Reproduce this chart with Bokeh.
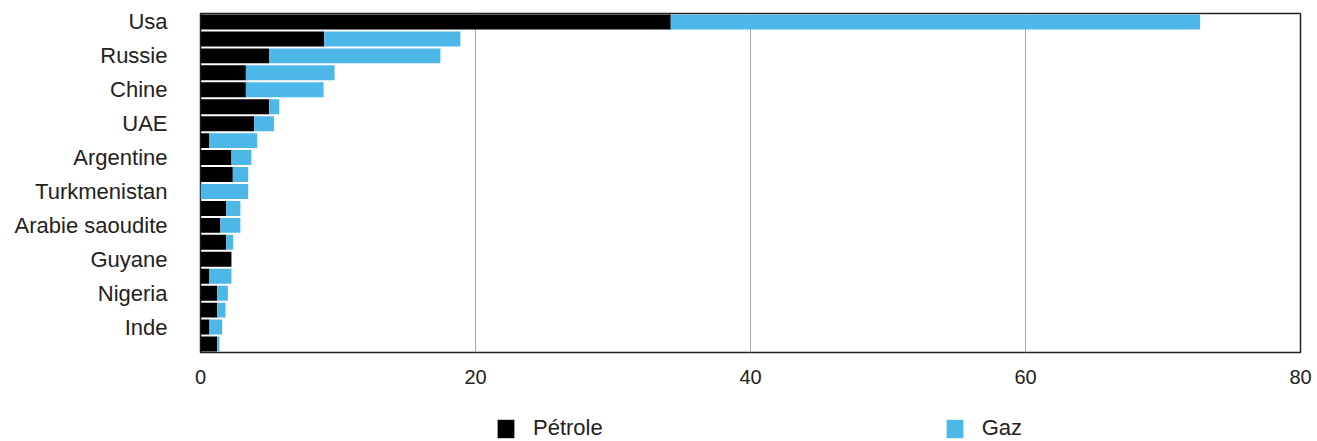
from bokeh.plotting import figure
from bokeh.layouts import column
from bokeh.models import Range1d, FixedTicker, Legend, LegendItem, ColumnDataSource
from bokeh.embed import file_html
from bokeh.resources import INLINE

# Data
labels = ["Usa", "", "Russie", "", "Chine", "", "UAE", "", "Argentine", "",
          "Turkmenistan", "", "Arabie saoudite", "", "Guyane", "", "Nigeria", "", "Inde", ""]
petrole = [34.2, 9.0, 5.0, 3.3, 3.3, 5.0, 3.9, 0.65, 2.25, 2.35,
           0.0, 1.87, 1.45, 1.87, 2.25, 0.65, 1.21, 1.21, 0.65, 1.21]
gaz = [38.5, 9.9, 12.45, 6.45, 5.65, 0.73, 1.45, 3.47, 1.45, 1.12,
       3.47, 1.03, 1.45, 0.51, 0.0, 1.6, 0.78, 0.61, 0.93, 0.17]
x_ticks = [0, 20, 40, 60, 80]
series = ["Pétrole", "Gaz"]
colors = ["#000000", "#4db8e8"]

pos = list(range(1, len(labels) + 1))
src = ColumnDataSource(dict(y=pos, petrole=petrole, gaz=gaz))

p = figure(width=1317, height=395, output_backend="svg", toolbar_location=None,
           x_range=Range1d(0, 80), y_range=Range1d(len(labels) + 0.5, 0.5),
           min_border_left=200, min_border_right=17, min_border_top=13, min_border_bottom=43)

p.hbar_stack(["petrole", "gaz"], y="y", height=0.88, color=colors, source=src, line_width=0)

p.outline_line_color = "#222222"
p.outline_line_width = 1.5

p.ygrid.visible = False
p.xgrid.ticker = FixedTicker(ticks=[20, 40, 60])
p.xgrid.grid_line_color = "#a9a9a9"
p.xgrid.grid_line_width = 1

p.xaxis.ticker = FixedTicker(ticks=x_ticks)
p.xaxis.axis_line_color = None
p.xaxis.major_tick_line_color = None
p.xaxis.minor_tick_line_color = None
p.xaxis.major_label_text_font = "Liberation Sans"
p.xaxis.major_label_text_font_size = "20px"
p.xaxis.major_label_text_color = "#222222"
p.xaxis.major_label_standoff = 11

tick_pos = [i + 1 for i, l in enumerate(labels) if l]
p.yaxis.ticker = FixedTicker(ticks=tick_pos)
p.yaxis.major_label_overrides = {i + 1: l for i, l in enumerate(labels) if l}
p.yaxis.axis_line_color = None
p.yaxis.major_tick_line_color = None
p.yaxis.minor_tick_line_color = None
p.yaxis.major_label_text_font = "Liberation Sans"
p.yaxis.major_label_text_font_size = "22px"
p.yaxis.major_label_text_color = "#222222"
p.yaxis.major_label_standoff = 27

# Legend strip below the chart (its frame lines up with the chart's frame)
p2 = figure(width=1317, height=46, output_backend="svg", toolbar_location=None,
            x_range=Range1d(0, 80), y_range=Range1d(len(labels) + 0.5, 0.5),
            x_axis_location=None, y_axis_location=None, min_border=0)
p2.outline_line_color = None
p2.grid.visible = False
rs = p2.hbar_stack(["petrole", "gaz"], y="y", height=0.88, color=colors, source=src, line_width=0)
for r in rs:
    r.visible = False

legend = Legend(items=[LegendItem(label=series[0], renderers=[rs[0]]),
                       LegendItem(label=series[1], renderers=[rs[1]])],
                orientation="horizontal", location=(295, 0), spacing=341,
                label_text_font="Liberation Sans", label_text_font_size="22px",
                label_text_color="#222222",
                glyph_width=21, glyph_height=23, label_standoff=17, label_height=23,
                inactive_fill_alpha=0,
                border_line_color=None, background_fill_alpha=0, padding=0, margin=0)
p2.add_layout(legend, "center")

open("out.html", "w").write(file_html(column(p, p2), INLINE))
